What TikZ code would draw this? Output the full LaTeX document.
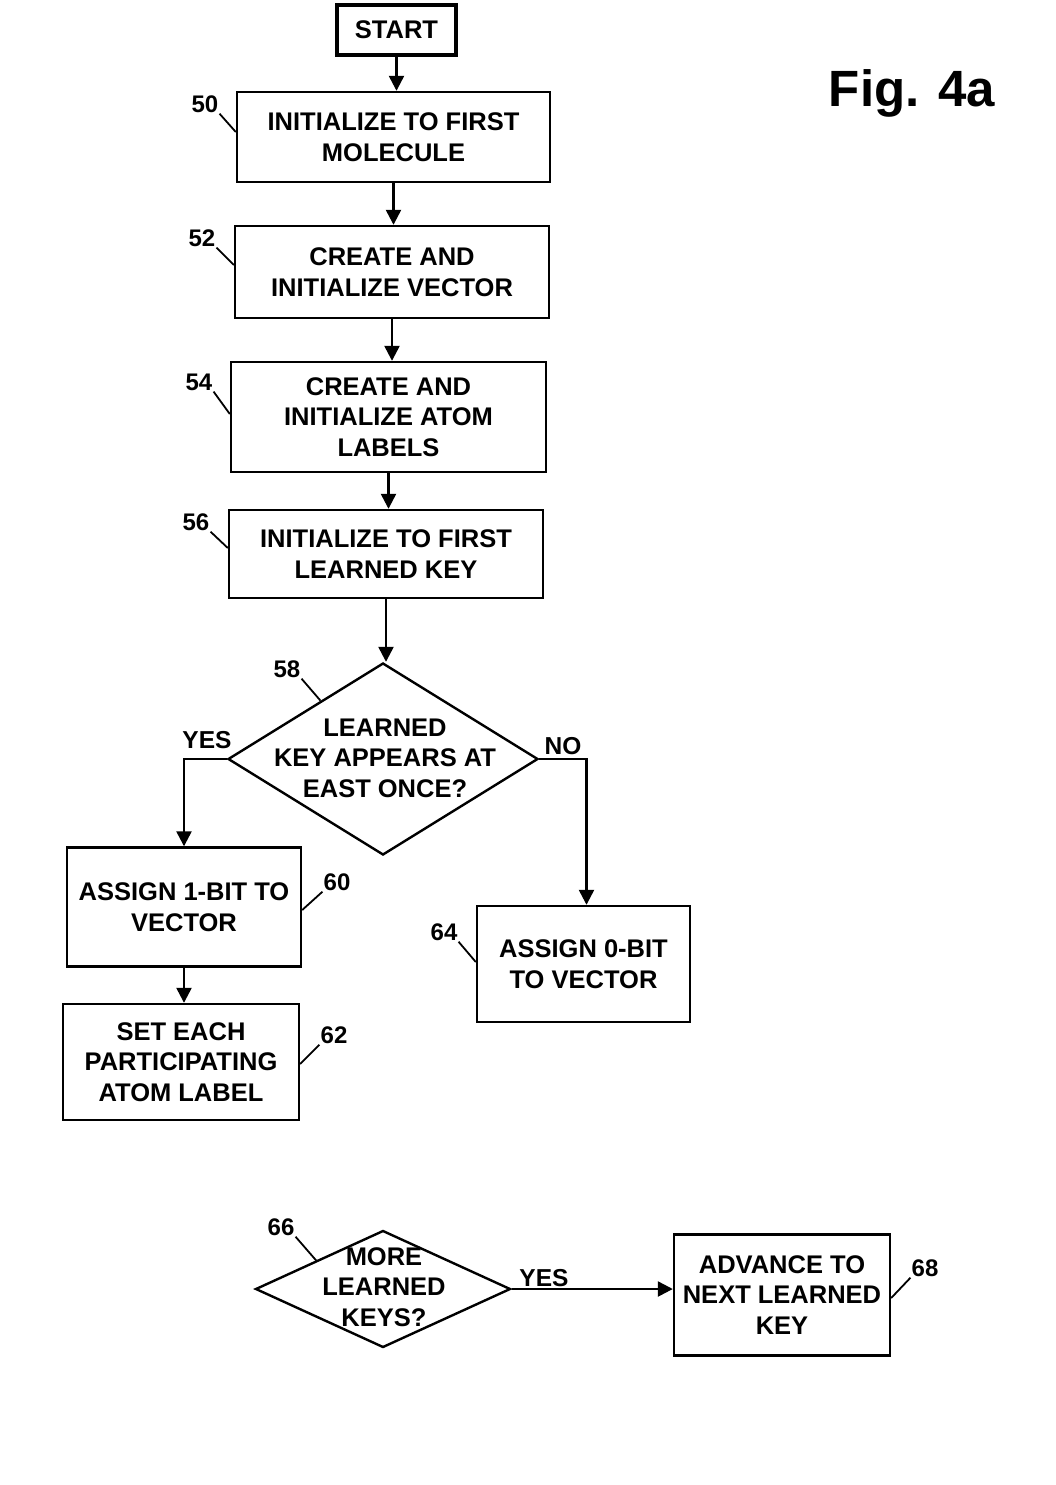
\documentclass[tikz,border=0pt]{standalone}
\usepackage{fontspec}
\setmainfont{Liberation Sans}
\usetikzlibrary{shapes.geometric,arrows.meta,calc}
\begin{document}
\begin{tikzpicture}[x=1pt,y=-1pt,
  every node/.style={font=\fontsize{25.5}{30.5}\selectfont\bfseries},
  procbox/.style={draw,line width=2.4pt,align=center,inner sep=0pt},
  decbox/.style={draw,diamond,line width=2.4pt,inner sep=0pt},
  numlab/.style={inner sep=1pt,font=\fontsize{24}{27}\selectfont\bfseries},
  flow/.style={line width=2.4pt,-{Triangle[length=15pt,width=15pt]}},
  leader/.style={line width=1.8pt},
  branch/.style={inner sep=1pt,font=\fontsize{24.5}{28}\selectfont\bfseries}]
\useasboundingbox (0,0) rectangle (1055,1485);
\fill[white] (0,0) rectangle (1055,1485);

% boxes
\node[procbox,line width=4.5pt,minimum width=119pt,minimum height=50pt] (start) at (396.5,30) {START};
\node[procbox,minimum width=313pt,minimum height=90pt] (b50) at (393.5,137) {INITIALIZE TO FIRST\\MOLECULE};
\node[procbox,minimum width=314pt,minimum height=92pt] (b52) at (392,272) {CREATE AND\\INITIALIZE VECTOR};
\node[procbox,minimum width=315pt,minimum height=110pt] (b54) at (388.5,417) {CREATE AND\\INITIALIZE ATOM\\LABELS};
\node[procbox,minimum width=314pt,minimum height=88pt] (b56) at (386,554) {INITIALIZE TO FIRST\\LEARNED KEY};
\node[decbox,minimum width=310pt,minimum height=192pt] (d58) at (383,759) {};
\node[align=center] (t58) at (385,758) {LEARNED\\KEY APPEARS AT\\EAST ONCE?};
\node[procbox,minimum width=234pt,minimum height=119pt] (b60) at (184,907) {ASSIGN 1-BIT TO\\VECTOR};
\node[procbox,minimum width=236pt,minimum height=116pt] (b62) at (181,1062) {SET EACH\\PARTICIPATING\\ATOM LABEL};
\node[procbox,minimum width=213pt,minimum height=116pt] (b64) at (583.5,964) {ASSIGN 0-BIT\\TO VECTOR};
\node[decbox,minimum width=255pt,minimum height=117pt] (d66) at (383,1289) {};
\node[align=center] (t66) at (384,1287) {MORE\\LEARNED\\KEYS?};
\node[procbox,minimum width=216pt,minimum height=121pt] (b68) at (782,1295) {ADVANCE TO\\NEXT LEARNED\\KEY};

% title
\node (fig) at (912,93) {\fontsize{51}{56}\selectfont\bfseries Fig. 4a};

% connectors
\draw[flow] (start.south) -- (start.south |- b50.north);
\draw[flow] (b50.south) -- (b50.south |- b52.north);
\draw[flow] (b52.south) -- (b52.south |- b54.north);
\draw[flow] (b54.south) -- (b54.south |- b56.north);
\draw[flow] (b56.south) -- (b56.south |- d58.north);
\draw[flow] (d58.west) -| (b60.north);
\draw[flow] (d58.east) -| ([xshift=3pt]b64.north);
\draw[flow] (b60.south) -- (b60.south |- b62.north);
\draw[flow] (d66.east) -- (d66.east -| b68.west);

% branch labels
\node[branch] (yes1) at (207,740) {YES};
\node[branch] (no1) at (563,746) {NO};
\node[branch] (yes2) at (544,1278) {YES};

% reference numbers
\node[numlab] (n50) at (205,104) {50};
\node[numlab] (n52) at (202,238) {52};
\node[numlab] (n54) at (199,382) {54};
\node[numlab] (n56) at (196,522) {56};
\node[numlab] (n58) at (287,669) {58};
\node[numlab] (n60) at (337,882) {60};
\node[numlab] (n62) at (334,1035) {62};
\node[numlab] (n64) at (444,932) {64};
\node[numlab] (n66) at (281,1227) {66};
\node[numlab] (n68) at (925,1268) {68};

\draw[leader] (n50.south east) -- ([yshift=5pt]b50.west);
\draw[leader] (n52.south east) -- ([yshift=7pt]b52.west);
\draw[leader] (n54.south east) -- ([yshift=3pt]b54.west);
\draw[leader] (n56.south east) -- ([yshift=6pt]b56.west);
\draw[leader] (n58.south east) -- ($(d58.west)!0.6!(d58.north)$);
\draw[leader] (n60.south west) -- ([yshift=-3pt]b60.east);
\draw[leader] (n62.south west) -- ([yshift=-2pt]b62.east);
\draw[leader] (n64.south east) -- ([yshift=2pt]b64.west);
\draw[leader] (n66.south east) -- ($(d66.west)!0.48!(d66.north)$);
\draw[leader] (n68.south west) -- ([yshift=-3pt]b68.east);
\end{tikzpicture}
\end{document}
